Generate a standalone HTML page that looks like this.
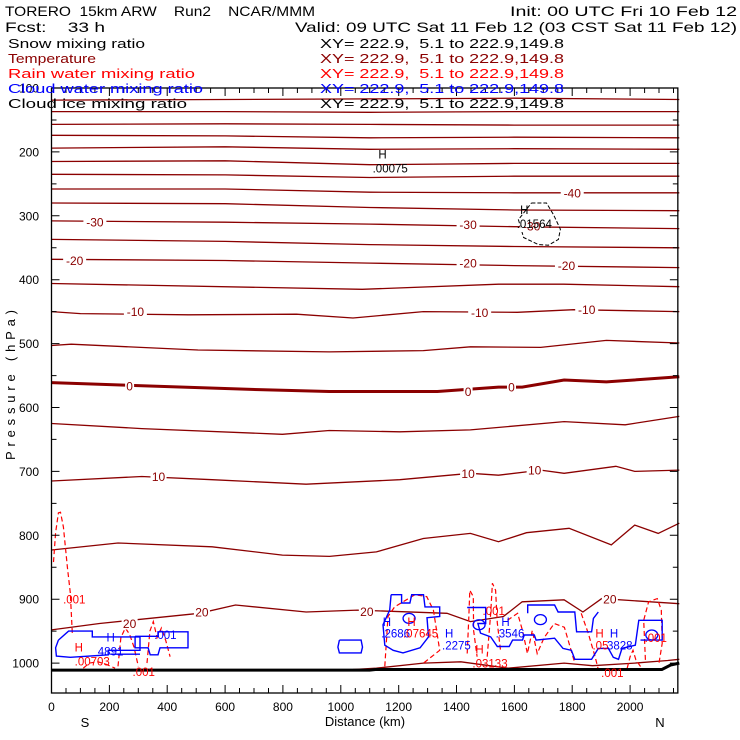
<!DOCTYPE html>
<html><head><meta charset="utf-8"><style>
html,body{margin:0;padding:0;background:#fff;}
svg{display:block;font-family:"Liberation Sans",sans-serif;}
svg text{white-space:pre;}
</style></head><body>
<svg id="chart" width="740" height="740" viewBox="0 0 740 740" xmlns="http://www.w3.org/2000/svg" xml:space="preserve">
<rect x="0" y="0" width="740" height="740" fill="#fff"/>
<g id="marks"></g>
<g id="axes"></g>
<g id="labels"></g>
<g font-size="14" fill="#000">
<text x="5" y="16" textLength="310" lengthAdjust="spacingAndGlyphs">TORERO  15km ARW    Run2    NCAR/MMM</text>
<text x="510" y="16" textLength="227" lengthAdjust="spacingAndGlyphs">Init: 00 UTC Fri 10 Feb 12</text>
<text x="5" y="32" textLength="100" lengthAdjust="spacingAndGlyphs">Fcst:    33 h</text>
<text x="295" y="32" textLength="442" lengthAdjust="spacingAndGlyphs">Valid: 09 UTC Sat 11 Feb 12 (03 CST Sat 11 Feb 12)</text>
</g>
<g font-size="12.5">
<g fill="#000"><text x="8" y="48" textLength="137" lengthAdjust="spacingAndGlyphs">Snow mixing ratio</text><text x="320" y="48" textLength="244" lengthAdjust="spacingAndGlyphs">XY= 222.9,  5.1 to 222.9,149.8</text></g>
<g fill="#8b0000"><text x="8" y="63" textLength="88" lengthAdjust="spacingAndGlyphs">Temperature</text><text x="320" y="63" textLength="244" lengthAdjust="spacingAndGlyphs">XY= 222.9,  5.1 to 222.9,149.8</text></g>
<g fill="#ff0000"><text x="8" y="78" textLength="187" lengthAdjust="spacingAndGlyphs">Rain water mixing ratio</text><text x="320" y="78" textLength="244" lengthAdjust="spacingAndGlyphs">XY= 222.9,  5.1 to 222.9,149.8</text></g>
<g fill="#0000ff"><text x="8" y="93" textLength="195" lengthAdjust="spacingAndGlyphs">Cloud water mixing ratio</text><text x="320" y="93" textLength="244" lengthAdjust="spacingAndGlyphs">XY= 222.9,  5.1 to 222.9,149.8</text></g>
<g fill="#000"><text x="8" y="108" textLength="179" lengthAdjust="spacingAndGlyphs">Cloud ice mixing ratio</text><text x="320" y="108" textLength="244" lengthAdjust="spacingAndGlyphs">XY= 222.9,  5.1 to 222.9,149.8</text></g>
</g>
</svg>
<script>
// ---- data ----
const isoTemps = [-75,-70,-65,-60,-55,-50,-45,-40,-35,-30,-25,-20,-15,-10,-5,0,5,10,15,20,25];
const isoKm = [
 [0,600,1100,1600,2170],[0,600,1100,1600,2170],[0,600,1100,1600,2170],[0,600,1100,1600,2170],
 [0,600,1100,1600,2170],[0,600,1100,1600,2170],[0,600,1100,1600,2170],[0,600,1100,1600,2170],
 [0,600,1100,1600,2170],[0,600,1100,1600,2170],[0,600,1100,1600,2170],[0,600,1100,1600,2170],
 [0,1074,1545,1770,2170],
 [0,100,474,847,1042,1285,1610,1805,2170],
 [0,68,506,960,1285,1448,1691,1918,2170],
 [0,312,717,960,1334,1545,1627,1772,1918,2170],
 [0,312,798,960,1204,1448,1772,1983,2170],
 [0,312,555,880,1204,1448,1545,1691,1772,1951,2016,2170],
 [0,230,555,798,961,1123,1285,1448,1545,1642,1789,1935,2016,2097,2170],
 [0,166,511,636,880,1058,1367,1448,1562,1627,1772,1837,1902,2170],
 [1042,1123,1285,1415,1530,1578,1772,1870,2016,2130,2170]
];
const isoP = [
 [119,118,117,116,118],[137,137,138,137,137],[157,156,157,158,158],[174,175,178,177,178],
 [194,192,196,195,196],[215,214,220,218,218],[235,236,240,238,238],[258,258,263,264,264],
 [280,281,287,291,292],[308,310,313,317,320],[337,340,345,348,350],[368,370,374,378,381],
 [406,415,407,407,411],
 [450,453,455,454,460,450,451,447,450],
 [503,501,510,513,511,505,506,495,499],
 [561,566,572,575,575,568,568,557,560,552],
 [625,633,642,636,638,635,622,627,614],
 [715,708,713,720,713,703,706,698,703,692,700,698],
 [823,812,818,831,833,826,805,797,810,796,789,815,784,797,781],
 [948,938,922,909,920,917,922,935,927,904,901,920,899,907],
 [1010,1008,1000,998,1005,1008,1000,1004,1000,996,994]
];
const tLabelText = ["-40","-30","-30","-30","-20","-20","-20","-10","-10","-10","0","0","0","10","10","10","20","20","20","20"];
const tLabelKm  = [1800,150,1440,1660,80,1440,1780,290,1480,1850,270,1440,1590,370,1440,1670,270,520,1090,1930];
const tLabelP   = [264,310,314,316,370,374,378,450,451,447,566,575,568,708,703,698,938,920,919,900];

const surfKm = [0,1100,1120,2110,2140,2170];
const surfP  = [1011,1011,1010,1010,1003,1000];

const iceKm = [1659,1711,1735,1759,1752,1718,1683,1632,1614,1642,1659];
const iceP  = [280,280,298,321,337,346,345,334,306,290,280];

const cloudKm = [
 [995,1070,1075,1070,995,990,995],
 [1174,1210,1210,1239,1245,1286,1291,1342,1342,1298,1303,1274,1215,1181,1152,1146,1169,1174],
 [1437,1501,1501,1474,1483,1518,1541,1582,1594,1628,1634,1669,1675,1739,1768,1797,1809,1867,1890,1925,1942,1960,1972,2018,2030,2111,2111,2036],
 [1646,1646,1739,1751,1809,1815,1867,1873,1890],
 [24,59,141,141,306,306,196,196,65,17,14,24],
 [289,368,368,472,472,375,368,341,334,289,289],
 [203,306]
];
const cloudP = [
 [964,964,975,984,984,975,964],
 [893,893,906,906,893,893,912,912,927,929,959,976,984,980,972,940,917,893],
 [913,913,938,938,953,959,974,974,964,964,956,956,964,961,977,980,994,994,977,977,991,994,977,972,933,933,964,964],
 [922,909,909,920,920,951,951,930,920],
 [964,950,950,959,959,980,980,987,991,989,976,964],
 [958,958,951,951,976,976,987,987,976,976,958],
 [986,986]
];
const ringKm = [1690,2075,1478,1236];
const ringP  = [932,956,940,930];

const rainKm = [
 [7,14,24,31,41,55,65,72],
 [1437,1442,1446,1458,1459,1471],
 [1506,1518,1524,1535,1541,1552],
 [2053,2047,2064,2094,2108,2111,2100],
 [1152,1163,1186,1256,1297,1320,1342,1286],
 [1576,1611,1628,1645,1662,1679,1703,1738,1773,1809],
 [1831,1855,1879,1890],
 [230,240,255,270,285,300],
 [330,340,352,365,380,395,410],
 [110,130,160,190,220],
 [1990,2000,2010,2020,2040]
];
const rainP = [
 [842,796,765,764,787,850,890,953],
 [985,933,886,896,949,990],
 [990,922,875,886,937,980],
 [995,933,904,899,917,969,1000],
 [1005,927,912,893,896,917,980,1000],
 [933,922,949,985,949,985,960,938,944,1000],
 [922,953,990,1010],
 [1005,960,945,955,975,1005],
 [1000,950,935,960,945,965,990],
 [1008,1000,998,1002,1008],
 [1008,990,980,995,1008]
];

const textLabels = [
 ["H",1130,210,"#000"],[".00075",1110,232,"#000"],["H",1620,297,"#000"],[".01564",1608,319,"#000"],
 [".001",40,907,"#f00"],["H",80,982,"#f00"],[".00703",80,1004,"#f00"],[".001",280,1020,"#f00"],
 ["H",190,966,"#00f"],["4891",160,988,"#00f"],[".001",355,962,"#00f"],
 ["H",1145,942,"#00f"],[".2686",1140,960,"#00f"],["H",1230,942,"#f00"],[".07645",1215,960,"#f00"],
 ["H",1360,960,"#00f"],[".2275",1350,979,"#00f"],[".001",1490,925,"#f00"],["H",1555,942,"#00f"],[".3546",1535,960,"#00f"],
 ["H",1465,985,"#f00"],[".03133",1455,1007,"#f00"],["H",1880,960,"#f00"],["H",1930,960,"#00f"],
 [".05",1870,979,"#f00"],["3828",1920,979,"#00f"],[".001",2050,967,"#f00"],[".001",1900,1022,"#f00"]
];

const xTicks = [0,200,400,600,800,1000,1200,1400,1600,1800,2000];
const yTicks = [100,200,300,400,500,600,700,800,900,1000];

// ---- scales ----
const X0=51.5, XS=0.2893, Y0=88, YS=0.639;
function X(km){return X0+km*XS;}
function Y(p){return Y0+(p-100)*YS;}
const NS="http://www.w3.org/2000/svg";
const marks=document.getElementById('marks');
const axes=document.getElementById('axes');
const labels=document.getElementById('labels');
function mk(tag,parent){const e=document.createElementNS(NS,tag);parent.appendChild(e);return e;}
function pts(k,p){return k.map((v,i)=>X(v).toFixed(1)+','+Y(p[i]).toFixed(1)).join(' ');}

// isotherms
isoTemps.forEach((t,i)=>{
  const l=mk('polyline',marks);
  
  
  l.setAttribute('points',pts(isoKm[i],isoP[i]));
  l.setAttribute('fill','none');l.setAttribute('stroke','#8b0000');
  l.setAttribute('stroke-width',t===0?3:1.3);
});
// ice
{const l=mk('polyline',marks);


l.setAttribute('points',pts(iceKm,iceP));l.setAttribute('fill','none');l.setAttribute('stroke','#000');l.setAttribute('stroke-dasharray','4,2');}
// rain
rainKm.forEach((k,i)=>{const l=mk('polyline',marks);


l.setAttribute('points',pts(k,rainP[i]));l.setAttribute('fill','none');l.setAttribute('stroke','#f00');l.setAttribute('stroke-width','1.2');l.setAttribute('stroke-dasharray','5,3');});
// cloud water
cloudKm.forEach((k,i)=>{const l=mk('polyline',marks);


l.setAttribute('points',pts(k,cloudP[i]));l.setAttribute('fill','none');l.setAttribute('stroke','#00f');l.setAttribute('stroke-width','1.4');});
ringKm.forEach((k,i)=>{const c=mk('ellipse',marks);


c.setAttribute('cx',X(k));c.setAttribute('cy',Y(ringP[i]));c.setAttribute('rx',6);c.setAttribute('ry',5);c.setAttribute('fill','none');c.setAttribute('stroke','#00f');c.setAttribute('stroke-width','1.3');});
// surface
{const l=mk('polyline',marks);


l.setAttribute('points',pts(surfKm,surfP));l.setAttribute('fill','none');l.setAttribute('stroke','#000');l.setAttribute('stroke-width','3');}

// temperature labels
tLabelText.forEach((s,i)=>{
  const x=X(tLabelKm[i]),y=Y(tLabelP[i]);
  const w=s.length*7+2;
  const r=mk('rect',labels);
  
  
  r.setAttribute('x',x-w/2);r.setAttribute('y',y-6);r.setAttribute('width',w);r.setAttribute('height',12);r.setAttribute('fill','#fff');
  const t=mk('text',labels);
  
  
  t.setAttribute('x',x);t.setAttribute('y',y+4.5);t.setAttribute('text-anchor','middle');t.setAttribute('font-size','12');t.setAttribute('fill','#8b0000');t.textContent=s;
});
textLabels.forEach(d=>{
  const t=mk('text',labels);
  
  
  t.setAttribute('x',X(d[1]));t.setAttribute('y',Y(d[2]));t.setAttribute('font-size','11.5');t.setAttribute('fill',d[3]);t.textContent=d[0];
});

// frame & ticks
const XR=X(2165), YB=693;
{const r=mk('rect',axes);


r.setAttribute('x',X0);r.setAttribute('y',Y0);r.setAttribute('width',XR-X0);r.setAttribute('height',YB-Y0);r.setAttribute('fill','none');r.setAttribute('stroke','#000');r.setAttribute('stroke-width','1.3');}
let tk='';
for(let k=50;k<2165;k+=50){const x=X(k).toFixed(1);const L=(k%200===0)?8:5;tk+=`M${x},${YB}v-${L}M${x},${Y0}v${L}`;}
for(let p=150;p<=1040;p+=50){const y=Y(p).toFixed(1);const L=(p%100===0)?8:5;tk+=`M${X0},${y}h${L}M${XR},${y}h-${L}`;}
{const pth=mk('path',axes);


pth.setAttribute('d',tk);pth.setAttribute('stroke','#000');pth.setAttribute('stroke-width','1');}
xTicks.forEach(k=>{const t=mk('text',axes);


t.setAttribute('x',X(k));t.setAttribute('y',711);t.setAttribute('text-anchor','middle');t.setAttribute('font-size','12');t.textContent=k;});
yTicks.forEach(p=>{const t=mk('text',axes);


t.setAttribute('x',39);t.setAttribute('y',Y(p)+4.5);t.setAttribute('text-anchor','end');t.setAttribute('font-size','12');t.textContent=p;});
[["Distance (km)",365,726,"x-axis-title"],["S",85,727,"south-label"],["N",660,727,"north-label"]].forEach(d=>{const t=mk('text',axes);


t.setAttribute('x',d[1]);t.setAttribute('y',d[2]);t.setAttribute('text-anchor','middle');t.setAttribute('font-size','13');t.textContent=d[0];});
{const t=mk('text',axes);


t.setAttribute('transform','translate(15,385) rotate(-90)');t.setAttribute('text-anchor','middle');t.setAttribute('font-size','13');t.setAttribute('textLength','150');t.textContent='Pressure (hPa)';}
</script>
</body></html>
